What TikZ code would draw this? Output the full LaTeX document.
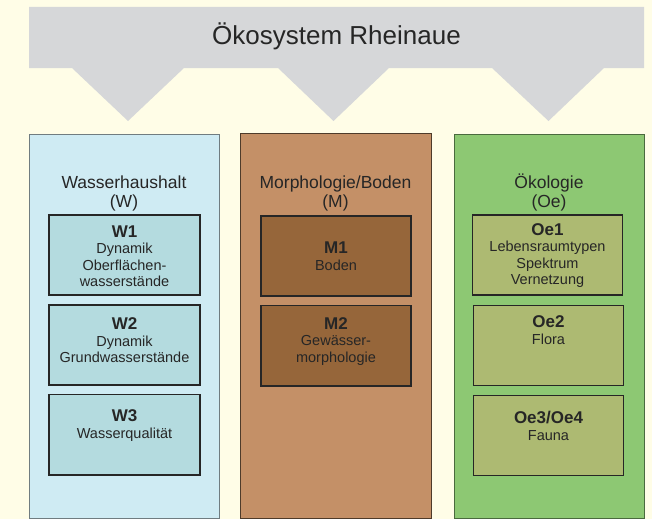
\documentclass[tikz,border=0pt]{standalone}
\usepackage{fontspec}
\setmainfont{Liberation Sans}
\usetikzlibrary{fit}

\definecolor{paper}{HTML}{FFFDE7}
\definecolor{banner}{HTML}{D6D7D9}
\definecolor{wcol}{HTML}{CFEBF3}
\definecolor{wbox}{HTML}{B4DBDF}
\definecolor{wline}{HTML}{707C80}
\definecolor{mcol}{HTML}{C49067}
\definecolor{mbox}{HTML}{96663A}
\definecolor{mline}{HTML}{4E3B2A}
\definecolor{ecol}{HTML}{8DC873}
\definecolor{ebox}{HTML}{ADBA72}
\definecolor{eline}{HTML}{4A6A3E}
\definecolor{ink}{HTML}{262626}

% text nodes are placed by the baseline of their last line
\tikzset{
  area/.style={inner sep=0pt, outer sep=0pt, line width=1pt},
  card/.style={inner sep=0pt, outer sep=0pt, line width=1.1pt, draw=ink},
  heading/.style={anchor=base, inner sep=0pt, align=center, text=ink,
    font=\fontsize{17.5}{19}\selectfont},
  cardtext/.style={anchor=base, inner sep=0pt, align=center, text=ink,
    font=\fontsize{14.5}{16.5}\selectfont},
}
\newcommand{\cardtitle}[1]{{\fontsize{17}{16.5}\selectfont\bfseries #1}}

\begin{document}
\begin{tikzpicture}[x=1pt,y=-1pt]
\useasboundingbox (0,0) rectangle (652,519);
\fill[paper] (0,0) rectangle (652,519);

% grey banner with three downward pointers
\fill[banner] (29,7) -- (644,7) -- (644,68) -- (604,68) -- (548.5,121) -- (492,68)
  -- (389,68) -- (333.5,121) -- (278,68) -- (184,68) -- (128,121) -- (72,68)
  -- (29,68) -- cycle;
\node[anchor=base, inner sep=0pt, text=ink, font=\fontsize{26}{30}\selectfont]
  (title) at (336.5,44.5) {Ökosystem Rheinaue};

% three columns
\node[area, fill=wcol, draw=wline, fit={(29,134) (219,518.3)}] (colW) {};
\node[area, fill=mcol, draw=mline, fit={(240,133.5) (431,518.3)}] (colM) {};
\node[area, fill=ecol, draw=eline, fit={(454,134) (644,518.3)}] (colE) {};

\node[heading] (hW) at (124,207) {Wasserhaushalt\\(W)};
\node[heading] (hM) at (335.5,207) {Morphologie/Boden\\(M)};
\node[heading] (hE) at (549,207) {Ökologie\\(Oe)};

% Wasserhaushalt
\node[card, fill=wbox, fit={(49,215) (200,295)}] (W1) {};
\node[card, fill=wbox, fit={(49,305) (200,385)}] (W2) {};
\node[card, fill=wbox, fit={(49,394.5) (200,475)}] (W3) {};
\node[cardtext] (W1t) at (124.5,286.5) {\cardtitle{W1}\\Dynamik\\Oberflächen-\\wasserstände};
\node[cardtext] (W2t) at (124.5,362.5) {\cardtitle{W2}\\Dynamik\\Grundwasserstände};
\node[cardtext] (W3t) at (124.5,438) {\cardtitle{W3}\\Wasserqualität};

% Morphologie/Boden
\node[card, fill=mbox, fit={(261,216) (411,296)}] (M1) {};
\node[card, fill=mbox, fit={(261,305.5) (411,386)}] (M2) {};
\node[cardtext] (M1t) at (336,270) {\cardtitle{M1}\\Boden};
\node[cardtext] (M2t) at (336,362) {\cardtitle{M2}\\Gewässer-\\morphologie};

% Oekologie
\node[card, fill=ebox, fit={(472.5,215) (622.5,295)}] (Oe1) {};
\node[card, fill=ebox, fit={(473.5,305.5) (623.5,385.5)}] (Oe2) {};
\node[card, fill=ebox, fit={(473.5,395.5) (623.5,475.5)}] (Oe3) {};
\node[cardtext] (Oe1t) at (547.5,284.5) {\cardtitle{Oe1}\\Lebensraumtypen\\Spektrum\\Vernetzung};
\node[cardtext] (Oe2t) at (548.5,344) {\cardtitle{Oe2}\\Flora};
\node[cardtext] (Oe3t) at (548.5,440) {\cardtitle{Oe3/Oe4}\\Fauna};
\end{tikzpicture}
\end{document}
